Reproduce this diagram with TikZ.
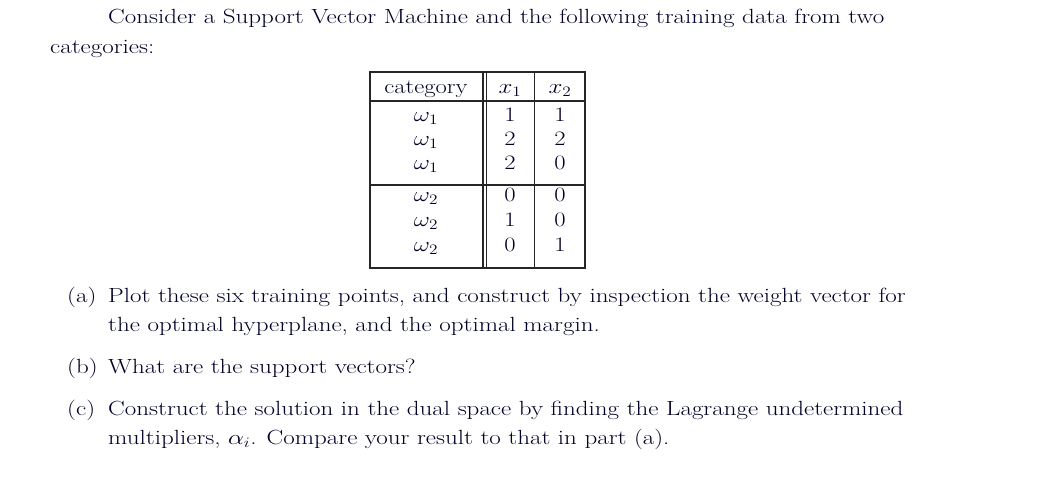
\documentclass[tikz,border=0pt]{standalone}
\begin{document}
\begin{tikzpicture}[x=1pt,y=-1pt,
  txt/.style={anchor=base west,inner sep=0pt,xscale=1.22,text=black!85!blue,font=\fontsize{20.5}{24}\selectfont},
  cell/.style={anchor=base,inner sep=0pt,xscale=1.2,text=black!85!blue,font=\fontsize{20.5}{24}\selectfont},
  rule/.style={line width=1.4pt,draw=black!85}]
\useasboundingbox (0,0) rectangle (1046,496);
\node[txt] (l1) at (108,23) {Consider a Support Vector Machine and the following training data from two};
\node[txt] (l2) at (50,53) {categories:};
% table
\draw[rule] (370,72) rectangle (585,268);
\draw[rule] (370,101) -- (585,101);
\draw[rule] (370,185) -- (585,185);
\draw[rule] (483,72) -- (483,268);
\draw[line width=0.9pt,draw=black!85] (486,72) -- (486,268);
\draw[line width=0.9pt,draw=black!85] (534,72) -- (534,268);
\node[cell] (h0) at (426,93) {category};
\node[cell] (h1) at (510,93) {$x_1$};
\node[cell] (h2) at (560,93) {$x_2$};
\foreach \y/\c/\a/\b [count=\i] in {121/1/1/1,145/1/2/2,169/1/2/0,201/2/0/0,226/2/1/0,251/2/0/1}{
  \node[cell] (c\i) at (426,\y) {$\omega_\c$};
  \node[cell] (a\i) at (510,\y) {\a};
  \node[cell] (b\i) at (560,\y) {\b};
}
\node[txt] (pa) at (67,302) {(a)};
\node[txt] (a1) at (108,302) {Plot these six training points, and construct by inspection the weight vector for};
\node[txt] (a2) at (108,331) {the optimal hyperplane, and the optimal margin.};
\node[txt] (pb) at (67,373) {(b)};
\node[txt] (b1) at (108,373) {What are the support vectors?};
\node[txt] (pc) at (67,415) {(c)};
\node[txt] (c1) at (108,415) {Construct the solution in the dual space by finding the Lagrange undetermined};
\node[txt] (c2) at (108,444) {multipliers, $\alpha_i$. Compare your result to that in part (a).};
\end{tikzpicture}
\end{document}
